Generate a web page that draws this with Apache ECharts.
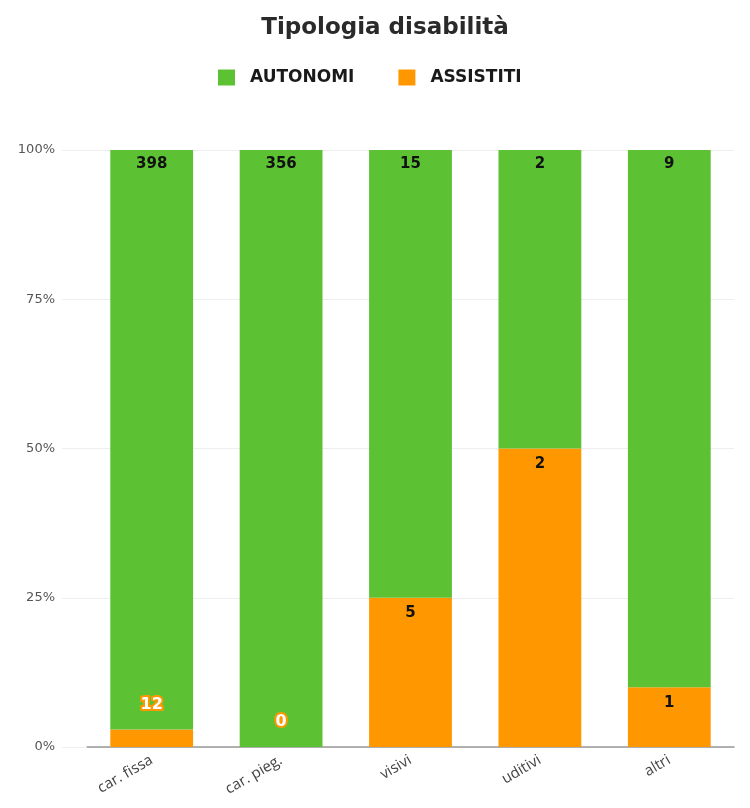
<!DOCTYPE html>
<html><head><meta charset="utf-8">
<script src="https://cdn.jsdelivr.net/npm/echarts@6/dist/echarts.min.js"></script>
<style>html,body{margin:0;padding:0;background:#fff}#c{width:750px;height:808px}</style>
</head><body><div id="c"></div>
<script>
const categories = ['car. fissa', 'car. pieg.', 'visivi', 'uditivi', 'altri'];
const autonomi = [398, 356, 15, 2, 9];
const assistiti = [12, 0, 5, 2, 1];
const yTicks = ['0%', '25%', '50%', '75%', '100%'];

const GREEN = '#5cc234';
const ORANGE = '#ff9800';
const totals = categories.map((_, i) => autonomi[i] + assistiti[i]);
const pct = (arr) => arr.map((v, i) => ({ value: totals[i] ? v / totals[i] * 100 : 0, raw: v }));

const autData = pct(autonomi).map(d => ({ value: d.value, raw: d.raw }));
const assData = pct(assistiti).map(d => {
  const o = { value: d.value, raw: d.raw };
  if (d.value < 5) {
    o.label = { position: 'top', distance: 17, color: '#fff', textBorderColor: ORANGE, textBorderWidth: 4, fontSize: 16 };
  }
  return o;
});

const chart = echarts.init(document.getElementById('c'));
chart.setOption({
  animation: false,
  title: {
    text: 'Tipologia disabilità', left: 380, textAlign: 'center', top: 12,
    textStyle: { fontFamily: 'DejaVu Sans', fontWeight: 'bold', fontSize: 23, color: '#2a2a2a' }
  },
  legend: {
    top: 64, left: 213, itemWidth: 17, itemHeight: 16, itemGap: 44,
    icon: 'rect',
    textStyle: { fontFamily: 'DejaVu Sans', fontWeight: 'bold', fontSize: 17, color: '#1a1a1a', padding: [0, 0, 0, 10] },
    data: ['AUTONOMI', 'ASSISTITI']
  },
  grid: { left: 87, right: 16, top: 150, bottom: 61 },
  xAxis: {
    type: 'category', data: categories,
    axisLine: { lineStyle: { color: '#999', width: 1.5 } },
    axisTick: { show: false },
    axisLabel: { rotate: 30, color: '#444', fontFamily: 'Open Sans', fontSize: 15, margin: 12 }
  },
  yAxis: {
    type: 'value', min: 0, max: 100, interval: 25,
    axisLine: { show: false },
    axisTick: { show: true, length: 25, lineStyle: { color: '#eeeeee' } },
    splitLine: { lineStyle: { color: '#eeeeee' } },
    axisLabel: {
      margin: 32, color: '#555', fontFamily: 'DejaVu Sans', fontSize: 13,
      formatter: (v) => yTicks[Math.round(v / 25)]
    }
  },
  series: [
    {
      name: 'ASSISTITI', type: 'bar', stack: 's', barWidth: '64%', data: assData,
      itemStyle: { color: ORANGE },
      label: {
        show: true, position: 'insideTop', distance: 8, color: '#111',
        fontFamily: 'DejaVu Sans', fontWeight: 'bold', fontSize: 15,
        formatter: (p) => String(p.data.raw)
      }
    },
    {
      name: 'AUTONOMI', type: 'bar', stack: 's', barWidth: '64%', data: autData,
      itemStyle: { color: GREEN },
      label: {
        show: true, position: 'insideTop', distance: 7, color: '#111',
        fontFamily: 'DejaVu Sans', fontWeight: 'bold', fontSize: 15,
        formatter: (p) => String(p.data.raw)
      }
    }
  ]
});
</script></body></html>
